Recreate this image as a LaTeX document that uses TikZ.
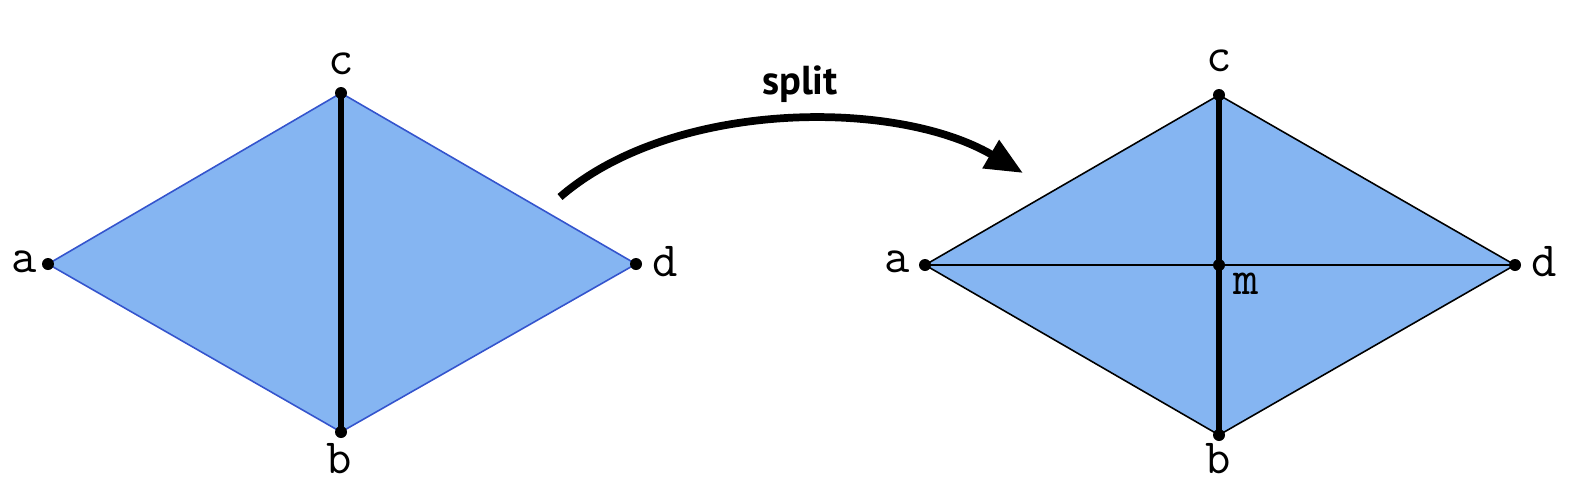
\documentclass[tikz,border=0pt]{standalone}
\usepackage{fontspec}
\usepackage{tikz}
\usetikzlibrary{arrows.meta}
\newfontfamily\splitfont{PT Sans}
\definecolor{facefill}{RGB}{133,181,242}
\definecolor{faceedge}{RGB}{52,84,205}
\tikzset{
  vert/.style={circle,fill=black,inner sep=0pt,minimum size=0.24cm},
  vlabel/.style={font=\ttfamily\fontsize{28}{28}\selectfont,inner sep=0pt},
  oldedge/.style={line width=0.9pt,draw=faceedge},
  newedge/.style={line width=0.9pt,draw=black},
  splitedge/.style={line width=3.2pt,draw=black}
}
\begin{document}
\begin{tikzpicture}[x=0.02cm,y=-0.02cm]
  \useasboundingbox (0,0) rectangle (1594,498);

  % before the split
  \coordinate (a1) at (48,264);
  \coordinate (b1) at (341,432);
  \coordinate (c1) at (341,93);
  \coordinate (d1) at (636,264);
  \fill[facefill] (a1) -- (c1) -- (d1) -- (b1) -- cycle;
  \draw[oldedge] (a1) -- (c1) -- (d1) -- (b1) -- cycle;
  \draw[splitedge] (c1) -- (b1);
  \foreach \v in {a1,b1,c1,d1}
    \node[vert] (p\v) at (\v) {};
  \node[vlabel] (la1) at (24,262) {a};
  \node[vlabel] (lb1) at (339,459) {b};
  \node[vlabel] (lc1) at (341,64) {c};
  \node[vlabel] (ld1) at (665,262) {d};

  % after the split
  \coordinate (a2) at (925,265);
  \coordinate (b2) at (1219,435);
  \coordinate (c2) at (1219,95);
  \coordinate (d2) at (1515,265);
  \coordinate (m2) at (1219,265);
  \fill[facefill] (a2) -- (c2) -- (d2) -- (b2) -- cycle;
  \draw[newedge] (a2) -- (c2) -- (d2) -- (b2) -- cycle;
  \draw[newedge] (a2) -- (d2);
  \draw[splitedge] (c2) -- (b2);
  \foreach \v in {a2,b2,c2,d2,m2}
    \node[vert] (p\v) at (\v) {};
  \node[vlabel] (la2) at (897,262) {a};
  \node[vlabel] (lb2) at (1218,459) {b};
  \node[vlabel] (lc2) at (1219,61) {c};
  \node[vlabel] (ld2) at (1544,262) {d};
  \node[vlabel] (lm2) at (1246,284) {m};

  % the arrow
  \coordinate (from) at (560,197);
  \coordinate (to) at (1023,173);
  \draw[line width=4.4pt,-{Triangle[length=0.75cm,width=0.62cm]}]
    (from) .. controls (672,100) and (895,98) .. (to);
  \node[font=\splitfont\bfseries\fontsize{23}{23}\selectfont] (split) at (800,84) {split};
\end{tikzpicture}
\end{document}
